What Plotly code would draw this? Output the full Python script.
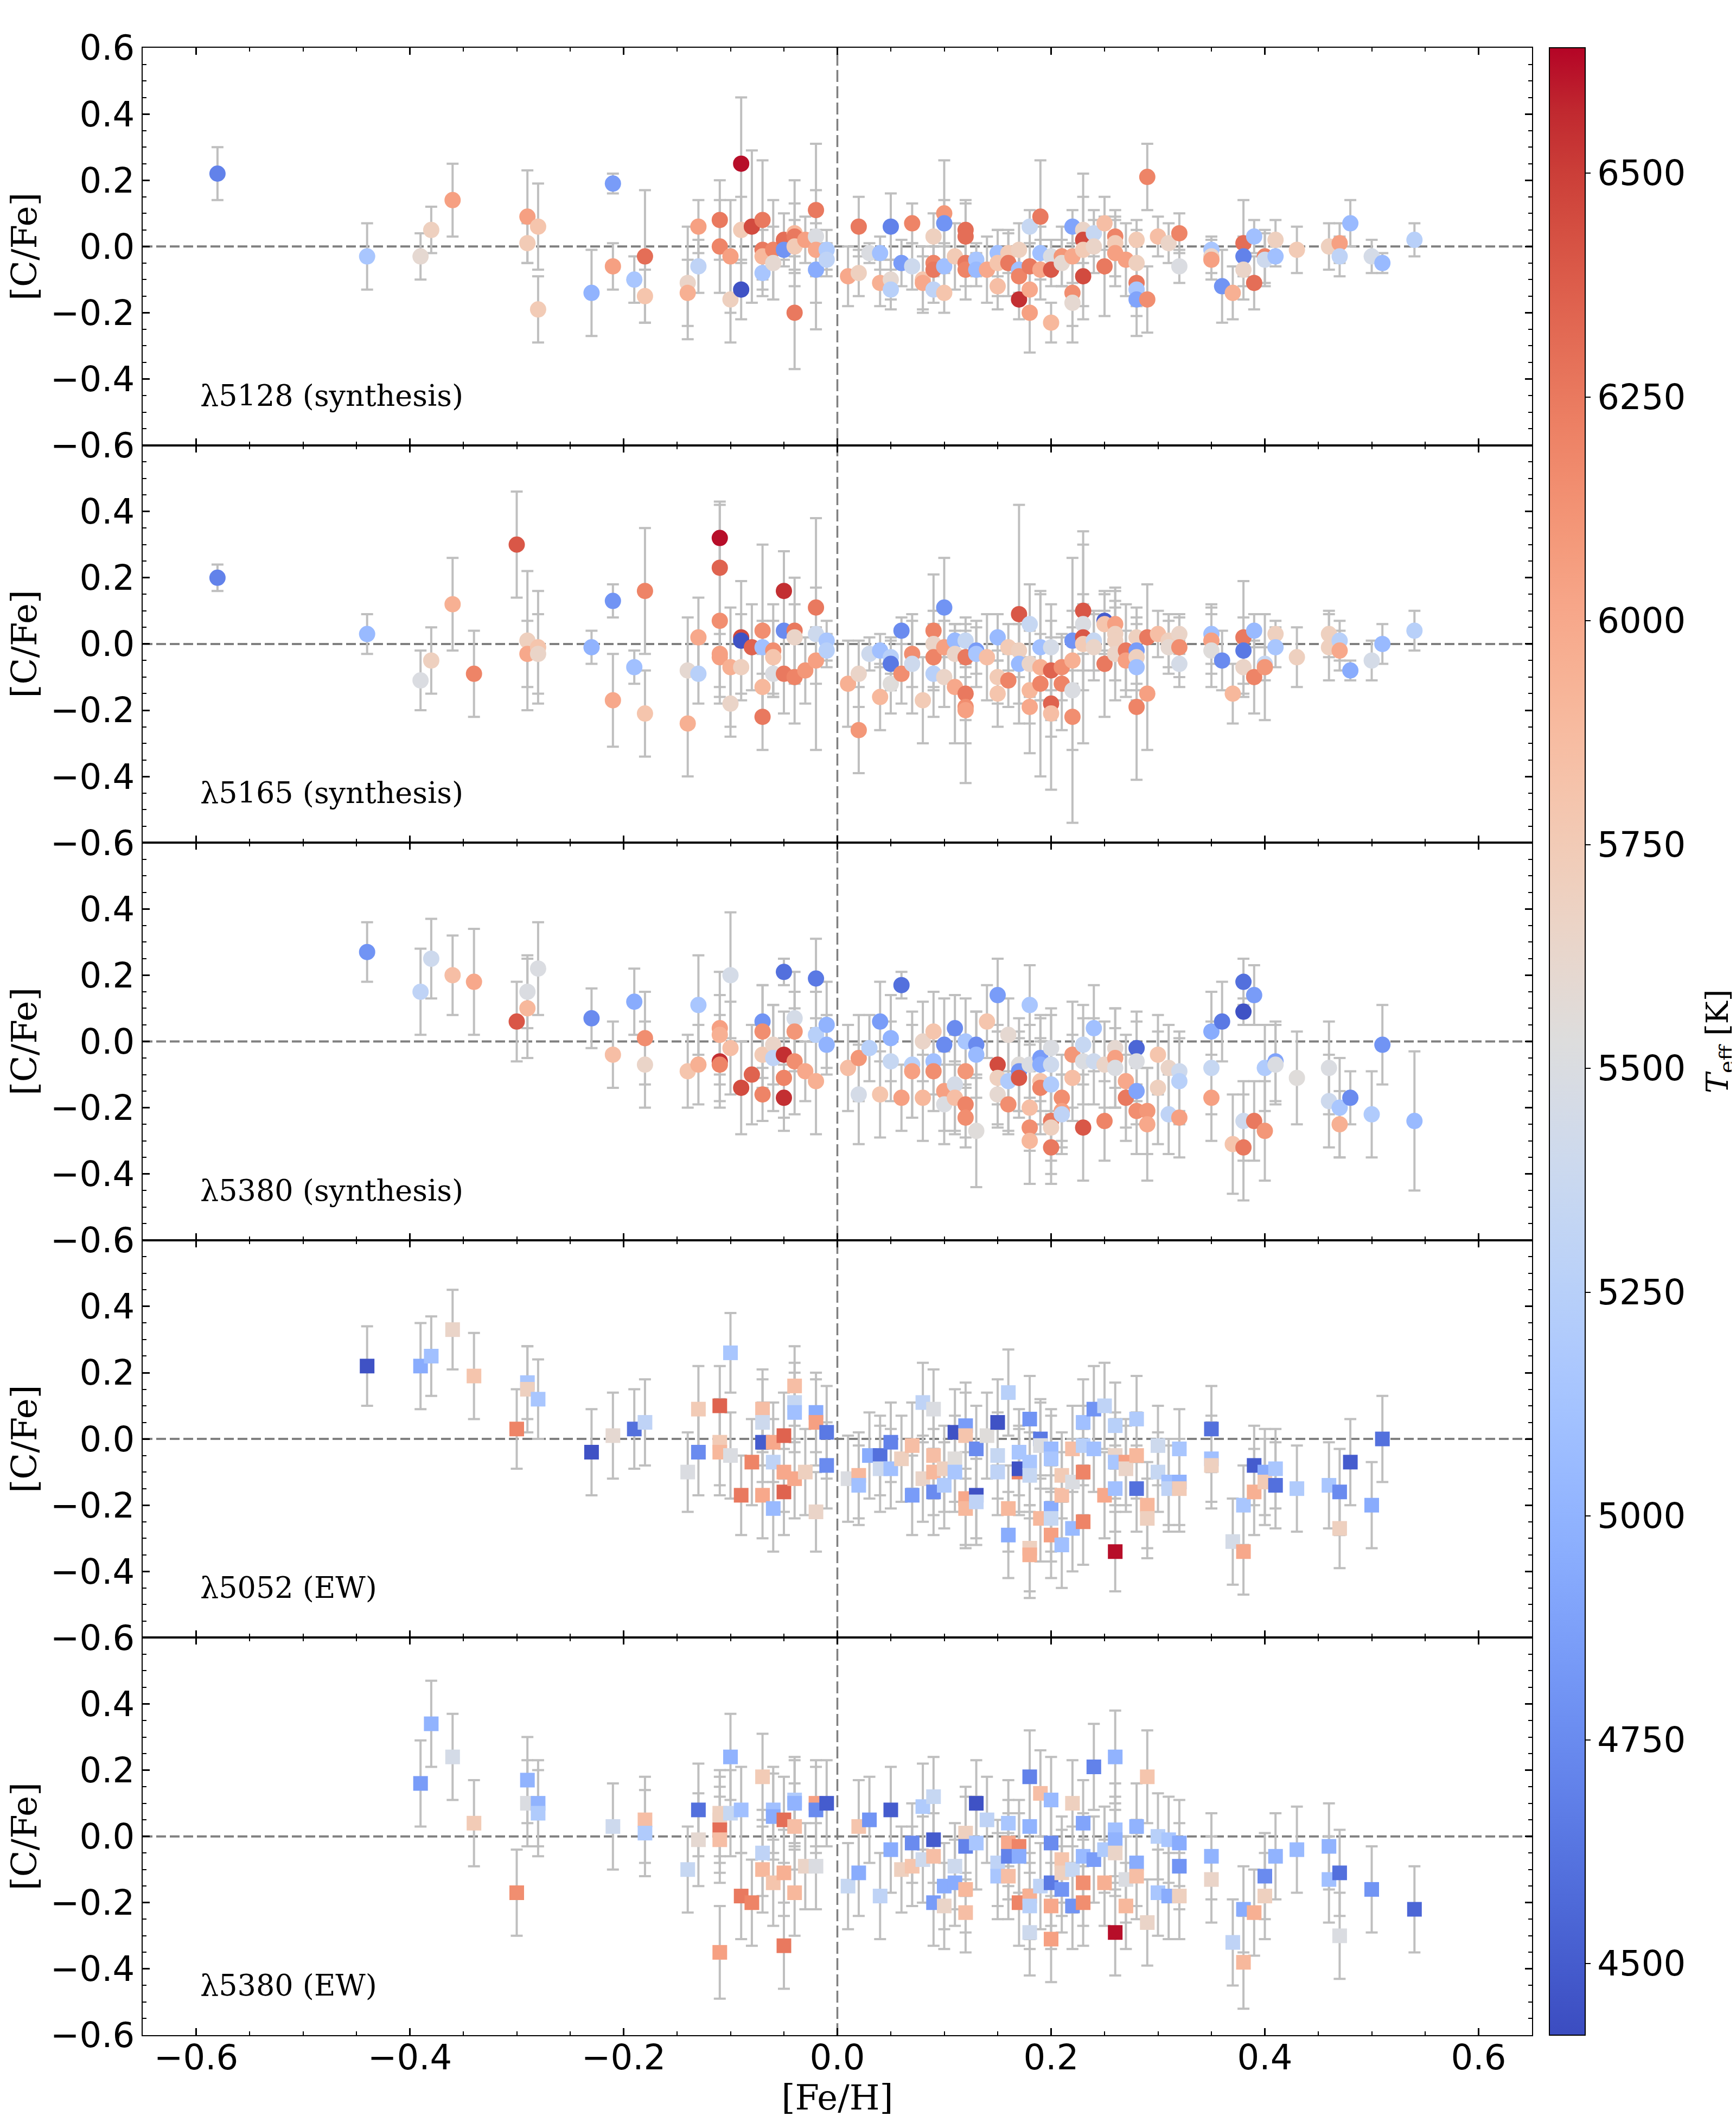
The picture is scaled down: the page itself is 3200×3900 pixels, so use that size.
import plotly.graph_objects as go
from plotly.subplots import make_subplots

# ---------------- data: panel 1  (lambda5128 synthesis) ----------------
P1_FEH = [-0.58,-0.44,-0.39,-0.38,-0.36,-0.29,-0.29,-0.28,-0.28,-0.23,
          -0.21,-0.21,-0.19,-0.18,-0.18,-0.14,-0.14,-0.13,-0.13,-0.11,
          -0.11,-0.10,-0.10,-0.09,-0.09,-0.09,-0.08,-0.07,-0.07,-0.07,
          -0.07,-0.06,-0.06,-0.05,-0.05,-0.04,-0.04,-0.04,-0.04,-0.03,
          -0.02,-0.02,-0.02,-0.02,-0.01,-0.01,
          0.01,0.02,0.02,0.03,0.04,0.04,0.05,0.05,0.05,0.06,
          0.07,0.07,0.08,0.08,0.09,0.09,0.09,0.09,0.10,0.10,
          0.10,0.10,0.11,0.12,0.12,0.12,0.12,0.13,0.13,0.14,
          0.15,0.15,0.15,0.16,0.16,0.17,0.17,0.17,0.17,0.18,
          0.18,0.18,0.18,0.19,0.19,0.19,0.20,0.20,0.20,0.21,
          0.21,0.22,0.22,0.22,0.22,0.23,0.23,0.23,0.23,0.24,
          0.24,0.25,0.25,0.26,0.26,0.26,0.27,0.28,0.28,0.28,
          0.28,0.28,0.29,0.29,0.30,0.31,0.32,0.32,0.35,0.35,
          0.35,0.36,0.37,0.38,0.38,0.38,0.39,0.39,0.40,0.40,
          0.41,0.41,0.43,0.46,0.47,0.47,0.48,0.50,0.51,0.54]
P1_CFE = [0.22,-0.03,-0.03,0.05,0.14,0.09,0.01,0.06,-0.19,-0.14,
          0.19,-0.06,-0.10,-0.03,-0.15,-0.11,-0.14,0.06,-0.06,0.08,
          0.00,-0.03,-0.16,0.25,0.05,-0.13,0.06,0.08,-0.01,-0.03,
          -0.08,-0.01,-0.05,0.02,-0.01,0.04,0.03,0.00,-0.20,0.02,
          0.11,0.03,-0.01,-0.07,-0.01,-0.04,
          -0.09,0.06,-0.08,-0.02,-0.02,-0.11,0.06,-0.10,-0.13,-0.05,
          0.07,-0.06,-0.10,-0.11,0.03,-0.05,-0.07,-0.13,0.10,0.07,
          -0.06,-0.14,-0.03,0.05,0.03,-0.05,-0.07,-0.04,-0.07,-0.07,
          -0.02,-0.05,-0.12,-0.02,-0.05,-0.01,-0.07,-0.09,-0.16,0.06,
          -0.06,-0.13,-0.20,0.09,-0.02,-0.07,-0.03,-0.07,-0.23,-0.03,
          -0.05,0.06,-0.03,-0.14,-0.17,0.05,0.02,-0.01,-0.09,0.04,
          0.00,0.07,-0.06,0.03,0.01,-0.02,-0.04,0.02,-0.05,-0.11,
          -0.13,-0.16,0.21,-0.16,0.03,0.01,0.04,-0.06,-0.01,-0.03,
          -0.04,-0.12,-0.14,0.01,-0.03,-0.07,0.03,-0.11,-0.03,-0.04,
          0.02,-0.03,-0.01,0.00,0.01,-0.03,0.07,-0.03,-0.05,0.02]
P1_ERR = [0.08,0.10,0.07,0.07,0.11,0.14,0.06,0.13,0.10,0.13,
          0.03,0.07,0.07,0.20,0.08,0.17,0.10,0.08,0.08,0.12,
          0.14,0.17,0.13,0.20,0.10,0.09,0.23,0.18,0.06,0.10,
          0.07,0.15,0.11,0.08,0.03,0.16,0.10,0.08,0.17,0.07,
          0.06,0.28,0.08,0.10,0.06,0.05,
          0.09,0.09,0.07,0.03,0.05,0.07,0.10,0.06,0.06,0.07,
          0.06,0.07,0.10,0.08,0.07,0.08,0.07,0.04,0.16,0.07,
          0.07,0.06,0.10,0.09,0.10,0.07,0.09,0.05,0.05,0.10,
          0.07,0.10,0.07,0.06,0.10,0.08,0.07,0.07,0.06,0.05,
          0.07,0.07,0.12,0.17,0.08,0.09,0.05,0.05,0.06,0.09,
          0.07,0.05,0.08,0.10,0.12,0.10,0.20,0.07,0.13,0.07,
          0.08,0.08,0.15,0.06,0.10,0.10,0.11,0.06,0.10,0.07,
          0.08,0.11,0.10,0.10,0.06,0.06,0.06,0.05,0.04,0.05,
          0.06,0.11,0.08,0.13,0.06,0.09,0.05,0.08,0.08,0.08,
          0.06,0.03,0.07,0.07,0.06,0.06,0.07,0.05,0.03,0.05]
P1_TEFF = [4700,5150,5600,5700,6050,6050,5750,5800,5750,5000,
           4850,6050,5150,6300,5800,5650,5950,6050,5300,6250,
           6200,6050,5700,6620,5750,4450,6450,6250,6250,5900,
           5150,6200,5600,6300,4800,5900,6250,5750,6250,6050,
           6250,5500,6000,4950,5200,5300,
           6000,6250,5700,5500,5100,5950,4700,5600,5250,4850,
           6200,5400,5800,6000,5700,6200,6250,5300,6100,4800,
           5100,5800,5750,6300,6300,6250,6200,5150,5050,6000,
           5100,5800,5850,5750,6250,5700,5100,6200,6550,5350,
           6250,6000,6050,6250,5100,6000,5500,6400,5900,6100,
           5600,4900,6000,6150,5600,5650,6450,5750,6450,5350,
           5650,5850,6250,6200,5750,6050,6050,5750,5700,6250,
           5150,4900,6200,6150,5850,5650,6200,5500,5150,5650,
           6050,4800,5950,6300,4700,5650,5100,6300,6200,5400,
           5700,5100,5750,5700,6050,5300,5050,5450,5050,5250]

# ---------------- data: panel 2  (lambda5165 synthesis) ----------------
P2_FEH = [-0.58,-0.44,-0.39,-0.38,-0.36,-0.34,-0.30,-0.29,-0.29,-0.28,
          -0.28,-0.23,-0.21,-0.21,-0.19,-0.18,-0.18,-0.14,-0.14,-0.13,
          -0.13,-0.11,-0.11,-0.11,-0.11,-0.11,-0.10,-0.10,-0.09,-0.09,
          -0.09,-0.08,-0.07,-0.07,-0.07,-0.07,-0.06,-0.06,-0.06,-0.05,
          -0.05,-0.05,-0.04,-0.04,-0.04,-0.03,-0.02,-0.02,-0.02,-0.01,
          -0.01,
          0.01,0.02,0.02,0.03,0.04,0.04,0.05,0.05,0.05,0.06,
          0.06,0.07,0.07,0.08,0.09,0.09,0.09,0.09,0.10,0.10,
          0.10,0.11,0.11,0.11,0.12,0.12,0.12,0.12,0.12,0.13,
          0.13,0.14,0.15,0.15,0.15,0.16,0.16,0.17,0.17,0.17,
          0.18,0.18,0.18,0.18,0.19,0.19,0.19,0.20,0.20,0.20,
          0.20,0.21,0.21,0.22,0.22,0.22,0.22,0.23,0.23,0.23,
          0.23,0.24,0.24,0.25,0.25,0.25,0.26,0.26,0.26,0.26,
          0.27,0.27,0.28,0.28,0.28,0.28,0.28,0.29,0.29,0.30,
          0.31,0.31,0.32,0.32,0.32,0.35,0.35,0.35,0.36,0.37,
          0.38,0.38,0.38,0.39,0.39,0.40,0.40,0.41,0.41,0.43,
          0.46,0.46,0.47,0.47,0.48,0.50,0.51,0.54]
P2_CFE = [0.20,0.03,-0.11,-0.05,0.12,-0.09,0.30,0.01,-0.03,-0.01,
          -0.03,-0.01,0.13,-0.17,-0.07,0.16,-0.21,-0.08,-0.24,0.02,
          -0.09,0.32,0.23,0.07,-0.03,-0.04,-0.07,-0.18,0.02,0.01,
          -0.07,-0.01,0.04,-0.01,-0.13,-0.22,-0.02,-0.04,-0.09,0.04,
          0.16,-0.09,0.04,0.02,-0.10,-0.08,0.11,0.03,-0.05,0.01,
          -0.02,
          -0.12,-0.09,-0.26,-0.03,-0.02,-0.16,-0.04,-0.06,-0.12,0.04,
          -0.09,-0.03,-0.06,-0.17,0.04,0.00,-0.04,-0.09,0.11,-0.01,
          -0.10,0.01,-0.03,-0.13,0.01,-0.04,-0.15,-0.19,-0.20,-0.02,
          -0.03,-0.04,0.02,-0.10,-0.15,-0.01,-0.11,0.09,-0.02,-0.06,
          0.06,-0.06,-0.14,-0.19,-0.01,-0.07,-0.12,-0.01,-0.08,-0.18,
          -0.21,-0.07,-0.12,0.01,-0.05,-0.14,-0.22,0.10,0.06,0.02,
          0.00,0.01,-0.01,0.07,0.06,-0.06,0.06,0.03,0.01,-0.03,
          -0.02,-0.05,0.02,-0.02,-0.04,-0.07,-0.19,0.02,-0.15,0.03,
          0.01,-0.01,0.03,-0.01,-0.06,0.03,0.01,-0.02,-0.05,-0.15,
          0.02,-0.02,-0.07,0.04,-0.10,-0.06,-0.07,0.03,-0.01,-0.04,
          0.03,-0.01,0.01,-0.02,-0.08,-0.05,0.00,0.04]
P2_ERR = [0.04,0.06,0.09,0.10,0.14,0.13,0.16,0.21,0.10,0.17,
          0.12,0.05,0.05,0.14,0.05,0.19,0.13,0.16,0.16,0.12,
          0.09,0.10,0.20,0.25,0.10,0.12,0.18,0.10,0.17,0.08,
          0.10,0.13,0.26,0.08,0.10,0.10,0.14,0.11,0.07,0.12,
          0.12,0.12,0.16,0.10,0.14,0.10,0.06,0.35,0.07,0.06,
          0.05,
          0.13,0.10,0.13,0.05,0.05,0.10,0.05,0.08,0.09,0.04,
          0.09,0.10,0.15,0.13,0.17,0.10,0.10,0.13,0.15,0.08,
          0.09,0.05,0.09,0.17,0.07,0.10,0.08,0.23,0.10,0.07,
          0.10,0.13,0.07,0.08,0.10,0.07,0.08,0.33,0.08,0.12,
          0.12,0.10,0.10,0.14,0.16,0.10,0.28,0.13,0.15,0.10,
          0.23,0.10,0.14,0.09,0.10,0.40,0.10,0.24,0.09,0.10,
          0.30,0.09,0.10,0.09,0.09,0.16,0.10,0.14,0.12,0.14,
          0.14,0.09,0.09,0.10,0.10,0.10,0.22,0.16,0.17,0.07,
          0.08,0.08,0.06,0.09,0.07,0.09,0.10,0.11,0.09,0.09,
          0.17,0.10,0.09,0.05,0.11,0.05,0.16,0.04,0.06,0.09,
          0.07,0.10,0.06,0.06,0.03,0.06,0.06,0.06]
P2_TEFF = [4700,5050,5500,5700,5950,6200,6400,5700,6000,5800,
           5650,5000,4800,6000,5100,6200,5800,5600,5950,6000,
           5250,6620,6350,6150,6050,6050,5950,5650,6450,4450,
           5700,6350,6150,5100,5900,6250,6150,5800,5500,4750,
           6550,6250,6250,5650,6200,6100,6250,5400,6050,5150,
           5250,
           5950,5650,6100,5400,5100,5900,5250,4650,5550,4750,
           6150,6150,5400,5750,6200,5650,6200,5250,4800,6050,
           5650,5050,5650,6000,5350,6250,6250,6150,6050,4850,
           5150,5850,5050,5750,5800,5750,6200,6400,5700,5050,
           5350,5650,5900,6000,5100,5950,6200,5450,6350,6350,
           5850,6150,6200,4800,5950,5500,6150,6400,5500,6400,
           5750,5350,5650,4500,5800,6250,6050,5700,5700,5650,
           6250,6050,5700,4850,5700,5100,6200,6250,6050,5850,
           5700,5600,5650,6150,5450,5100,6050,5550,4750,5900,
           6250,4650,5650,5050,6200,5350,6100,5700,5150,5700,
           5700,5700,5250,6000,4950,5450,5050,5250]

# ---------------- data: panel 3  (lambda5380 synthesis) ----------------
P3_FEH = [-0.44,-0.39,-0.38,-0.36,-0.34,-0.30,-0.29,-0.29,-0.28,-0.23,
          -0.21,-0.19,-0.18,-0.18,-0.14,-0.13,-0.13,-0.11,-0.11,-0.11,
          -0.11,-0.10,-0.10,-0.09,-0.08,-0.07,-0.07,-0.07,-0.07,-0.06,
          -0.06,-0.05,-0.05,-0.05,-0.05,-0.04,-0.04,-0.04,-0.03,-0.02,
          -0.02,-0.02,-0.01,-0.01,
          0.01,0.02,0.02,0.03,0.04,0.04,0.05,0.05,0.06,0.06,
          0.07,0.07,0.08,0.08,0.09,0.09,0.09,0.10,0.10,0.10,
          0.11,0.11,0.11,0.12,0.12,0.12,0.12,0.13,0.13,0.13,
          0.14,0.15,0.15,0.15,0.15,0.16,0.16,0.16,0.17,0.17,
          0.17,0.18,0.18,0.18,0.18,0.18,0.19,0.19,0.19,0.19,
          0.20,0.20,0.20,0.20,0.20,0.20,0.21,0.21,0.21,0.22,
          0.22,0.23,0.23,0.23,0.24,0.24,0.25,0.25,0.26,0.26,
          0.26,0.27,0.27,0.28,0.28,0.28,0.28,0.29,0.29,0.30,
          0.30,0.31,0.31,0.32,0.32,0.32,0.35,0.35,0.35,0.36,
          0.37,0.38,0.38,0.38,0.38,0.39,0.39,0.40,0.40,0.41,
          0.41,0.43,0.46,0.46,0.47,0.47,0.48,0.50,0.51,0.54]
P3_CFE = [0.27,0.15,0.25,0.20,0.18,0.06,0.15,0.10,0.22,0.07,
          -0.04,0.12,0.01,-0.07,-0.09,0.11,-0.07,0.04,0.02,-0.06,
          -0.07,0.20,-0.02,-0.14,-0.10,0.06,0.03,-0.04,-0.16,-0.01,
          -0.05,0.21,-0.04,-0.11,-0.17,0.07,0.03,-0.06,-0.09,0.19,
          0.02,-0.12,0.05,-0.01,
          -0.08,-0.05,-0.16,-0.02,0.06,-0.16,0.01,-0.06,0.17,-0.17,
          -0.07,-0.09,0.00,-0.17,0.03,-0.06,-0.09,-0.01,-0.15,-0.19,
          0.04,-0.13,-0.17,0.00,-0.09,-0.19,-0.23,-0.01,-0.04,-0.27,
          0.06,0.14,-0.07,-0.11,-0.16,0.02,-0.12,-0.19,-0.07,-0.09,
          -0.11,0.11,-0.07,-0.20,-0.26,-0.30,-0.05,-0.07,-0.12,-0.14,
          -0.02,-0.07,-0.13,-0.24,-0.26,-0.32,-0.17,-0.21,-0.22,-0.04,
          -0.11,-0.01,-0.06,-0.26,0.04,-0.06,-0.07,-0.24,-0.02,-0.05,
          -0.08,-0.12,-0.17,-0.02,-0.06,-0.15,-0.21,-0.21,-0.25,-0.04,
          -0.14,-0.08,-0.22,-0.09,-0.12,-0.23,0.03,-0.08,-0.17,0.06,
          -0.31,0.18,0.09,-0.24,-0.32,0.14,-0.24,-0.08,-0.27,-0.06,
          -0.07,-0.11,-0.08,-0.18,-0.20,-0.25,-0.17,-0.22,-0.01,-0.24]
P3_ERR = [0.09,0.13,0.12,0.12,0.16,0.12,0.11,0.15,0.14,0.09,
          0.10,0.10,0.14,0.13,0.11,0.15,0.12,0.17,0.12,0.14,
          0.11,0.19,0.14,0.14,0.15,0.11,0.14,0.10,0.08,0.12,
          0.16,0.04,0.13,0.12,0.10,0.14,0.12,0.16,0.09,0.12,
          0.13,0.16,0.13,0.09,
          0.13,0.13,0.15,0.10,0.12,0.13,0.13,0.12,0.04,0.10,
          0.16,0.14,0.12,0.13,0.12,0.10,0.12,0.14,0.12,0.12,
          0.10,0.15,0.10,0.13,0.10,0.10,0.09,0.10,0.13,0.17,
          0.11,0.11,0.12,0.14,0.10,0.11,0.15,0.09,0.14,0.12,
          0.12,0.12,0.12,0.13,0.17,0.13,0.13,0.14,0.13,0.14,
          0.12,0.15,0.13,0.12,0.14,0.11,0.13,0.11,0.12,0.16,
          0.13,0.12,0.13,0.16,0.13,0.13,0.13,0.12,0.12,0.15,
          0.12,0.14,0.13,0.11,0.12,0.10,0.13,0.13,0.17,0.12,
          0.17,0.13,0.12,0.12,0.13,0.12,0.12,0.14,0.13,0.12,
          0.15,0.07,0.04,0.12,0.16,0.09,0.12,0.13,0.15,0.12,
          0.12,0.14,0.14,0.14,0.15,0.10,0.08,0.13,0.12,0.21]
P3_TEFF = [4800,5300,5400,5850,6000,6400,5500,5900,5500,4750,
           5850,4950,6150,5650,5800,5150,5950,6050,5950,6550,
           6200,5450,5850,6450,6350,4800,6150,5750,6200,5650,
           5300,4600,6550,6200,6550,5450,6100,6150,6000,4650,
           5250,5950,5000,5000,
           5850,6100,5450,5250,4850,5800,5000,5350,4600,6050,
           5250,6050,5650,5900,5800,5100,6150,4750,6050,5500,
           4750,5450,5850,5150,6100,6200,6150,4750,5050,5550,
           5800,4850,6450,5700,5600,5600,5200,6150,5550,4800,
           6400,5150,5500,5850,6150,5900,4850,4950,5800,6200,
           5500,5400,5200,6250,5700,6250,6150,6050,5300,6100,
           5850,5350,5500,6400,5100,5400,5650,6200,5600,6050,
           5500,6000,6250,4550,5500,4900,6150,6100,6000,5800,
           5700,5650,5300,5400,5250,6050,4950,5350,6050,4650,
           5800,4600,4450,5400,6250,4850,6250,5200,6100,4900,
           5500,5550,5500,5400,5150,5950,4750,5200,4800,5050]

# ---------------- data: panel 4  (lambda5052 EW) ----------------
P4_FEH = [-0.44,-0.39,-0.38,-0.36,-0.34,-0.30,-0.29,-0.29,-0.28,-0.23,
          -0.21,-0.19,-0.18,-0.14,-0.13,-0.13,-0.11,-0.11,-0.11,-0.10,
          -0.10,-0.09,-0.08,-0.07,-0.07,-0.07,-0.07,-0.06,-0.06,-0.06,
          -0.05,-0.05,-0.05,-0.04,-0.04,-0.04,-0.04,-0.03,-0.02,-0.02,
          -0.02,-0.01,-0.01,
          0.01,0.02,0.02,0.03,0.04,0.04,0.05,0.05,0.06,0.07,
          0.07,0.08,0.08,0.09,0.09,0.09,0.09,0.10,0.10,0.11,
          0.11,0.11,0.12,0.12,0.12,0.12,0.13,0.13,0.13,0.14,
          0.15,0.15,0.15,0.16,0.16,0.16,0.17,0.17,0.17,0.18,
          0.18,0.18,0.18,0.18,0.19,0.19,0.19,0.20,0.20,0.20,
          0.20,0.20,0.21,0.21,0.21,0.22,0.22,0.22,0.23,0.23,
          0.23,0.23,0.24,0.24,0.25,0.25,0.26,0.26,0.26,0.26,
          0.26,0.27,0.27,0.28,0.28,0.28,0.29,0.29,0.30,0.30,
          0.31,0.31,0.32,0.32,0.32,0.35,0.35,0.35,0.37,0.38,
          0.38,0.39,0.39,0.40,0.40,0.41,0.41,0.43,0.46,0.47,
          0.47,0.48,0.50,0.51]
P4_CFE = [0.22,0.22,0.25,0.33,0.19,0.03,0.17,0.15,0.12,-0.04,
          0.01,0.03,0.05,-0.10,0.09,-0.04,0.10,-0.01,-0.04,0.26,
          -0.05,-0.17,-0.07,0.09,0.05,-0.01,-0.17,-0.01,-0.07,-0.21,
          0.01,-0.10,-0.16,0.16,0.11,0.08,-0.12,-0.10,0.08,0.05,
          -0.22,0.02,-0.08,
          -0.12,-0.11,-0.14,-0.05,-0.05,-0.09,-0.01,-0.09,-0.06,-0.02,
          -0.17,0.11,-0.12,0.09,-0.05,-0.10,-0.16,-0.09,-0.14,0.02,
          -0.06,-0.10,0.04,0.01,-0.18,-0.21,-0.03,-0.17,-0.19,0.01,
          0.05,-0.05,-0.10,0.14,-0.21,-0.29,-0.04,-0.10,-0.09,0.06,
          -0.07,-0.11,-0.33,-0.35,0.00,-0.02,-0.24,-0.03,-0.06,-0.21,
          -0.24,-0.29,-0.11,-0.17,-0.32,-0.03,-0.13,-0.27,0.05,-0.02,
          -0.10,-0.25,0.09,-0.03,0.10,-0.17,0.04,-0.05,-0.07,-0.15,
          -0.34,-0.07,-0.09,0.06,-0.05,-0.15,-0.20,-0.24,-0.02,-0.10,
          -0.13,-0.15,-0.03,-0.13,-0.15,0.03,-0.06,-0.08,-0.31,-0.20,
          -0.34,-0.08,-0.16,-0.10,-0.13,-0.09,-0.14,-0.15,-0.14,-0.16,
          -0.27,-0.07,-0.20,0.00]
P4_ERR = [0.12,0.13,0.12,0.12,0.13,0.12,0.11,0.13,0.12,0.13,
          0.13,0.12,0.13,0.12,0.13,0.13,0.12,0.13,0.13,0.12,
          0.13,0.12,0.13,0.12,0.13,0.12,0.13,0.12,0.13,0.13,
          0.13,0.12,0.13,0.12,0.12,0.12,0.12,0.13,0.12,0.13,
          0.12,0.14,0.13,
          0.13,0.13,0.12,0.13,0.12,0.13,0.12,0.12,0.13,0.13,
          0.12,0.12,0.13,0.12,0.13,0.13,0.13,0.13,0.13,0.13,
          0.13,0.12,0.13,0.13,0.14,0.12,0.13,0.13,0.13,0.13,
          0.13,0.13,0.13,0.13,0.13,0.13,0.13,0.13,0.13,0.13,
          0.13,0.13,0.13,0.13,0.12,0.13,0.13,0.12,0.13,0.13,
          0.13,0.13,0.13,0.13,0.13,0.13,0.13,0.13,0.13,0.12,
          0.13,0.13,0.13,0.13,0.13,0.13,0.13,0.13,0.13,0.13,
          0.12,0.13,0.13,0.13,0.13,0.13,0.13,0.12,0.12,0.12,
          0.13,0.13,0.12,0.13,0.13,0.13,0.13,0.13,0.13,0.12,
          0.13,0.12,0.13,0.13,0.13,0.12,0.13,0.13,0.13,0.13,
          0.12,0.13,0.13,0.13]
P4_TEFF = [4450,4950,5100,5650,5800,6200,5150,5700,5150,4450,
           5600,4600,5300,5500,5750,4750,6350,5750,5900,5150,
           5500,6250,6200,5850,5400,4500,6000,6000,5300,5050,
           6350,6000,6350,5850,5350,5100,6000,5700,4950,6050,
           5650,4650,4750,
           5500,5900,5100,4950,4600,5400,4700,5100,5700,5850,
           4850,5300,5650,5500,5850,5900,4750,5700,5200,4450,
           5550,5150,4850,5800,6000,5900,4750,4450,5300,5550,
           4450,5350,5300,5250,5900,4950,5150,6200,4450,4800,
           5150,5350,5700,5950,4650,5500,5900,5050,5150,4950,
           5350,6050,5750,5850,5100,5850,5500,5050,5100,5250,
           6200,6200,4800,5100,5300,6000,5250,5650,5150,5100,
           6620,6050,5650,5200,5900,4600,5900,5700,5400,5350,
           5100,5300,5150,5000,5750,4600,5100,5700,5450,5150,
           6000,4500,5950,4950,5750,5150,4600,5200,5150,4750,
           5700,4500,4950,4600]

# ---------------- data: panel 5  (lambda5380 EW) ----------------
P5_FEH = [-0.39,-0.38,-0.36,-0.34,-0.30,-0.29,-0.29,-0.28,-0.28,-0.21,
          -0.18,-0.18,-0.14,-0.13,-0.13,-0.11,-0.11,-0.11,-0.11,-0.11,
          -0.10,-0.10,-0.09,-0.09,-0.08,-0.07,-0.07,-0.07,-0.06,-0.06,
          -0.06,-0.05,-0.05,-0.05,-0.04,-0.04,-0.04,-0.04,-0.03,-0.02,
          -0.02,-0.02,-0.01,
          0.01,0.02,0.02,0.03,0.04,0.05,0.05,0.06,0.07,0.07,
          0.08,0.08,0.09,0.09,0.09,0.09,0.10,0.10,0.11,0.11,
          0.12,0.12,0.12,0.12,0.13,0.13,0.14,0.15,0.15,0.16,
          0.16,0.16,0.16,0.17,0.17,0.17,0.18,0.18,0.18,0.18,
          0.18,0.19,0.19,0.20,0.20,0.20,0.20,0.20,0.21,0.21,
          0.21,0.22,0.22,0.22,0.23,0.23,0.23,0.23,0.24,0.24,
          0.25,0.25,0.26,0.26,0.26,0.26,0.26,0.27,0.27,0.28,
          0.28,0.28,0.29,0.29,0.30,0.30,0.31,0.31,0.32,0.32,
          0.32,0.35,0.35,0.37,0.38,0.38,0.39,0.40,0.40,0.41,
          0.43,0.46,0.46,0.47,0.47,0.50,0.54]
P5_CFE = [0.16,0.34,0.24,0.04,-0.17,0.17,0.10,0.10,0.07,0.03,
          0.05,0.01,-0.10,0.08,-0.01,0.07,0.05,0.02,-0.01,-0.35,
          0.24,0.07,0.08,-0.18,-0.20,0.18,-0.05,-0.10,0.08,0.06,
          -0.14,0.05,-0.11,-0.33,0.11,0.10,0.03,-0.17,-0.09,0.10,
          0.08,-0.09,0.10,
          -0.15,0.03,-0.11,0.05,-0.18,0.08,-0.04,-0.10,-0.02,-0.09,
          0.09,-0.07,0.12,-0.01,-0.06,-0.20,-0.15,-0.21,-0.09,-0.14,
          0.01,-0.03,-0.16,-0.23,0.10,-0.02,0.05,-0.08,-0.12,0.04,
          -0.02,-0.06,-0.12,-0.03,-0.06,-0.20,0.18,0.03,-0.18,-0.21,
          -0.29,0.13,-0.15,0.11,-0.02,-0.14,-0.21,-0.31,-0.07,-0.11,
          -0.16,0.10,-0.10,-0.21,0.04,-0.06,-0.14,-0.20,0.21,-0.07,
          -0.04,-0.14,0.24,0.02,-0.01,-0.05,-0.29,-0.13,-0.21,0.03,
          -0.08,-0.12,0.18,-0.26,0.00,-0.17,-0.01,-0.18,-0.02,-0.09,
          -0.18,-0.06,-0.13,-0.32,-0.22,-0.38,-0.23,-0.12,-0.18,-0.06,
          -0.04,-0.03,-0.13,-0.11,-0.30,-0.16,-0.22]
P5_ERR = [0.13,0.13,0.13,0.13,0.13,0.13,0.13,0.13,0.13,0.13,
          0.13,0.13,0.13,0.14,0.14,0.13,0.13,0.13,0.13,0.14,
          0.13,0.13,0.13,0.13,0.13,0.13,0.13,0.13,0.13,0.13,
          0.13,0.13,0.13,0.13,0.13,0.13,0.13,0.13,0.13,0.13,
          0.13,0.13,0.13,
          0.13,0.14,0.13,0.13,0.13,0.13,0.13,0.13,0.12,0.12,
          0.13,0.13,0.12,0.13,0.13,0.13,0.13,0.13,0.13,0.13,
          0.14,0.15,0.13,0.12,0.13,0.14,0.13,0.13,0.13,0.13,
          0.13,0.13,0.13,0.14,0.13,0.13,0.14,0.14,0.13,0.13,
          0.13,0.13,0.13,0.13,0.13,0.13,0.13,0.13,0.13,0.13,
          0.13,0.13,0.13,0.13,0.13,0.13,0.13,0.13,0.13,0.13,
          0.13,0.13,0.14,0.14,0.13,0.13,0.13,0.13,0.13,0.13,
          0.13,0.13,0.14,0.13,0.13,0.13,0.13,0.13,0.13,0.13,
          0.13,0.13,0.13,0.13,0.13,0.14,0.13,0.13,0.13,0.13,
          0.13,0.13,0.13,0.13,0.13,0.13,0.13]
P5_TEFF = [4850,5000,5450,5750,6150,5000,5500,5000,5200,5400,
           5850,5200,5350,4600,5600,5700,5700,6300,5850,6050,
           5000,5350,5100,6250,6200,5750,5300,5900,5100,4950,
           5800,6300,5950,6250,5200,5000,5850,5900,5650,6050,
           4750,5500,4500,
           5350,5800,4950,4800,5300,4500,4950,5700,4750,5800,
           5200,5400,5350,4500,5850,4850,4950,5650,5400,4950,
           5700,4700,5900,5850,4450,5150,5300,5300,5150,5150,
           6000,4700,5850,6200,4950,6200,4700,5000,5950,5250,
           5400,5850,5300,5050,4750,4650,6000,6050,5800,5700,
           4800,5700,5350,4800,4900,5050,6150,6150,4700,4850,
           5200,5950,5000,5100,5000,5650,6620,5500,5900,5000,
           4950,5850,5800,5650,5250,5150,5150,4950,4950,4800,
           5700,5000,5650,5300,4950,5900,5950,4750,5700,5000,
           5050,5000,5100,4600,5500,4800,4550]

PANEL_LABELS = ["λ5128 (synthesis)", "λ5165 (synthesis)", "λ5380 (synthesis)",
                "λ5052 (EW)", "λ5380 (EW)"]
X_TICKS = [-0.6, -0.4, -0.2, 0.0, 0.2, 0.4, 0.6]
Y_TICKS_TOP = [-0.6, -0.4, -0.2, 0.0, 0.2, 0.4, 0.6]
Y_TICKS = [-0.6, -0.4, -0.2, 0.0, 0.2, 0.4]
CBAR_TICKS = [4500, 4750, 5000, 5250, 5500, 5750, 6000, 6250, 6500]
TEFF_MIN, TEFF_MAX = 4420, 6640

# matplotlib "coolwarm"
COOLWARM = [
    [0.0, "rgb(59,76,192)"], [0.03125, "rgb(68,90,204)"], [0.0625, "rgb(77,104,215)"],
    [0.09375, "rgb(87,117,225)"], [0.125, "rgb(98,130,234)"], [0.15625, "rgb(108,142,241)"],
    [0.1875, "rgb(119,154,247)"], [0.21875, "rgb(130,165,251)"], [0.25, "rgb(141,176,254)"],
    [0.28125, "rgb(152,185,255)"], [0.3125, "rgb(163,194,255)"], [0.34375, "rgb(174,201,253)"],
    [0.375, "rgb(184,208,249)"], [0.40625, "rgb(194,213,244)"], [0.4375, "rgb(204,217,238)"],
    [0.46875, "rgb(213,219,230)"], [0.5, "rgb(221,221,221)"], [0.53125, "rgb(229,216,209)"],
    [0.5625, "rgb(236,211,197)"], [0.59375, "rgb(241,204,184)"], [0.625, "rgb(245,196,172)"],
    [0.65625, "rgb(247,187,160)"], [0.6875, "rgb(247,177,148)"], [0.71875, "rgb(247,166,137)"],
    [0.75, "rgb(244,154,123)"], [0.78125, "rgb(241,141,111)"], [0.8125, "rgb(236,127,99)"],
    [0.84375, "rgb(229,112,88)"], [0.875, "rgb(222,96,77)"], [0.90625, "rgb(213,80,66)"],
    [0.9375, "rgb(203,62,56)"], [0.96875, "rgb(192,40,47)"], [1.0, "rgb(180,4,38)"],
]

SANS = "DejaVu Sans"
SERIF = "DejaVu Serif"

panels = [
    (P1_FEH, P1_CFE, P1_ERR, P1_TEFF, "circle", 30),
    (P2_FEH, P2_CFE, P2_ERR, P2_TEFF, "circle", 30),
    (P3_FEH, P3_CFE, P3_ERR, P3_TEFF, "circle", 30),
    (P4_FEH, P4_CFE, P4_ERR, P4_TEFF, "square", 27),
    (P5_FEH, P5_CFE, P5_ERR, P5_TEFF, "square", 27),
]

fig = make_subplots(rows=5, cols=1, shared_xaxes=True, vertical_spacing=0)

for i, (fe, cf, er, te, sym, sz) in enumerate(panels):
    fig.add_trace(go.Scatter(
        x=fe, y=cf, mode="markers",
        error_y=dict(type="data", array=er, visible=True, color="#bfbfbf",
                     thickness=4, width=11),
        marker=dict(symbol=sym, size=sz, color=te, coloraxis="coloraxis",
                    line=dict(width=0)),
        showlegend=False, hoverinfo="skip"), row=i + 1, col=1)

shapes = []
annotations = []
for i in range(5):
    sfx = "" if i == 0 else str(i + 1)
    shapes.append(dict(type="line", xref="x" + sfx + " domain", yref="y" + sfx,
                       x0=0, x1=1, y0=0, y1=0, layer="below",
                       line=dict(color="#808080", width=4, dash="18px,7px")))
    annotations.append(dict(text=PANEL_LABELS[i], xref="x" + sfx, yref="y" + sfx,
                            x=-0.597, y=-0.45, xanchor="left", yanchor="middle",
                            showarrow=False, font=dict(family=SERIF, size=54, color="black")))
shapes.append(dict(type="line", xref="x", yref="paper", x0=0, x1=0, y0=0, y1=1,
                   layer="below", line=dict(color="#808080", width=3.5, dash="22px,8px")))

# colour-bar title (placed as rotated text to the right of the tick labels)
annotations.append(dict(text="<i>T</i><sub>eff</sub> [K]", xref="paper", yref="paper",
                        x=1.135, y=0.5, xanchor="center", yanchor="middle",
                        textangle=-90, showarrow=False,
                        font=dict(family=SERIF, size=56, color="black")))

axis_common = dict(showline=True, linecolor="black", linewidth=2, mirror="allticks",
                   ticks="inside", ticklen=13, tickwidth=3, tickcolor="black",
                   showgrid=False, zeroline=False, automargin=False,
                   tickfont=dict(family=SANS, size=64, color="black"))

for i in range(5):
    fig.update_xaxes(range=[-0.65, 0.65], tickmode="array", tickvals=X_TICKS,
                     tickformat=".1f",
                     minor=dict(tickmode="linear", tick0=-0.6, dtick=0.05, ticks="inside",
                                ticklen=7, tickwidth=2, tickcolor="black"),
                     row=i + 1, col=1, **axis_common)
    fig.update_yaxes(range=[-0.6, 0.6], tickmode="array",
                     tickvals=Y_TICKS_TOP if i == 0 else Y_TICKS,
                     tickformat=".1f",
                     minor=dict(tickmode="linear", tick0=-0.6, dtick=0.05, ticks="inside",
                                ticklen=7, tickwidth=2, tickcolor="black"),
                     title=dict(text="[C/Fe]", font=dict(family=SERIF, size=64, color="black"),
                                standoff=20),
                     row=i + 1, col=1, **axis_common)

fig.update_xaxes(ticklabelstandoff=-16,
                 title=dict(text="[Fe/H]", font=dict(family=SERIF, size=64, color="black"),
                            standoff=4), row=5, col=1)

fig.update_layout(
    width=3200, height=3900,
    margin=dict(l=255, r=384, t=80, b=157),
    paper_bgcolor="white", plot_bgcolor="white",
    template="none",
    shapes=shapes, annotations=annotations,
    coloraxis=dict(
        colorscale=COOLWARM, cmin=TEFF_MIN, cmax=TEFF_MAX,
        colorbar=dict(
            x=1.0125, xanchor="left", y=0.5, yanchor="middle",
            len=1, lenmode="fraction", thickness=66, thicknessmode="pixels",
            xpad=0, ypad=0, outlinewidth=2, outlinecolor="black",
            tickmode="array", tickvals=CBAR_TICKS, ticks="outside", ticklen=9,
            tickwidth=2, tickcolor="black",
            tickfont=dict(family=SANS, size=64, color="black"),
        ),
    ),
)

fig.write_html("out.html")
